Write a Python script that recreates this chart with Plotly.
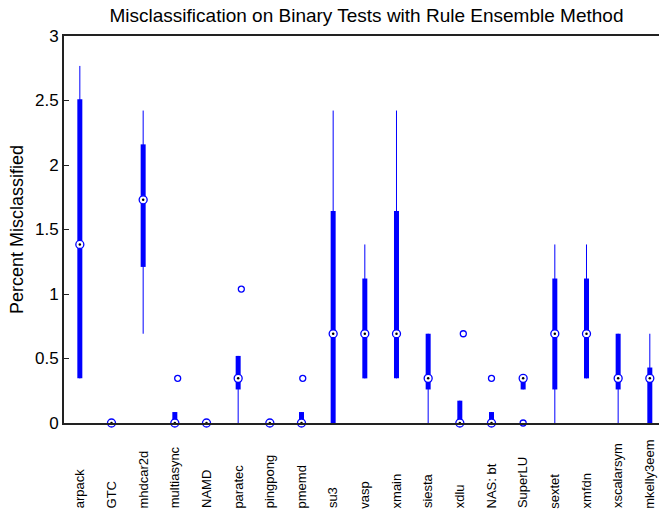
import plotly.graph_objects as go

labels = ["arpack", "GTC", "mhdcar2d", "multiasync", "NAMD", "paratec", "pingpong",
          "pmemd", "su3", "vasp", "xmain", "siesta", "xdlu", "NAS: bt", "SuperLU",
          "sextet", "xmfdn", "xscalarsym", "mkelly3eem"]

whisker_low = [0.346, 0, 0.692, 0, 0, 0, 0, 0, 0, 0.346, 0.346, 0, 0, 0, 0.26, 0, 0.346, 0, 0]
q1 = [0.346, 0, 1.21, 0, 0, 0.26, 0, 0, 0, 0.346, 0.346, 0.26, 0, 0, 0.26, 0.26, 0.346, 0.26, 0]
median = [1.384, 0, 1.73, 0, 0, 0.346, 0, 0, 0.692, 0.692, 0.692, 0.346, 0, 0, 0.346, 0.692, 0.692, 0.346, 0.346]
q3 = [2.51, 0, 2.16, 0.085, 0, 0.52, 0, 0.085, 1.643, 1.12, 1.643, 0.692, 0.173, 0.085, 0.346, 1.12, 1.12, 0.692, 0.43]
whisker_high = [2.768, 0, 2.422, 0.085, 0, 0.52, 0, 0.085, 2.422, 1.384, 2.422, 0.692, 0.173, 0.085, 0.346, 1.384, 1.384, 0.692, 0.692]

# outliers: (category index, value, horizontal jitter)
outlier_cat = [3, 5, 7, 12, 13, 14]
outlier_val = [0.346, 1.038, 0.346, 0.692, 0.346, 0.0]
outlier_jit = [0.09, 0.10, 0.04, 0.11, 0.0, 0.0]

BLUE = "#0000ff"
pos = list(range(1, len(labels) + 1))

wx, wy, bx, by = [], [], [], []
for p, lo, a, b, hi in zip(pos, whisker_low, q1, q3, whisker_high):
    if hi > lo:
        wx += [p, p, None]
        wy += [lo, hi, None]
    if b > a:
        bx += [p, p, None]
        by += [a, b, None]

fig = go.Figure()
fig.add_trace(go.Scatter(x=wx, y=wy, mode="lines", line=dict(color=BLUE, width=1),
                         hoverinfo="skip", showlegend=False, cliponaxis=False))
fig.add_trace(go.Scatter(x=bx, y=by, mode="lines", line=dict(color=BLUE, width=5),
                         hoverinfo="skip", showlegend=False, cliponaxis=False))
fig.add_trace(go.Scatter(x=[pos[c] + j for c, j in zip(outlier_cat, outlier_jit)], y=outlier_val,
                         mode="markers",
                         marker=dict(symbol="circle-open", size=6, color=BLUE, line=dict(width=1.3)),
                         showlegend=False, cliponaxis=False))
fig.add_trace(go.Scatter(x=pos, y=median, mode="markers",
                         marker=dict(symbol="circle", size=8, color="white",
                                     line=dict(color=BLUE, width=1.3)),
                         showlegend=False, cliponaxis=False))
fig.add_trace(go.Scatter(x=pos, y=median, mode="markers",
                         marker=dict(symbol="circle", size=2.5, color="black"),
                         showlegend=False, cliponaxis=False))

for p, lab in zip(pos, labels):
    fig.add_annotation(x=p, xref="x", y=-0.226, yref="paper", text=lab, textangle=-90,
                       showarrow=False, xanchor="center", yanchor="bottom",
                       font=dict(size=13, color="black", family="Liberation Sans, Arial, sans-serif"))

fig.update_layout(
    width=659, height=510,
    margin=dict(l=64, r=0, t=36, b=87),
    paper_bgcolor="white", plot_bgcolor="white",
    font=dict(family="Liberation Sans, Arial, sans-serif", color="black"),
    title=dict(text="Misclassification on Binary Tests with Rule Ensemble Method",
               x=366.5 / 659, xref="container", xanchor="center",
               y=1 - 15 / 510, yref="container", yanchor="middle",
               font=dict(size=19, color="black")),
    xaxis=dict(range=[0.5, 19.29], showgrid=False, zeroline=False, showticklabels=False,
               ticks="", showline=True, linecolor="#222", linewidth=2, mirror=True),
    yaxis=dict(range=[0, 3], showgrid=False, zeroline=False, tickvals=[0, 0.5, 1, 1.5, 2, 2.5, 3],
               ticktext=["0", "0.5", "1", "1.5", "2", "2.5", "3"],
               ticks="inside", ticklen=5, tickcolor="#222", showline=True, linecolor="#222",
               linewidth=2, tickfont=dict(size=17),
               title=dict(text="Percent Misclassified", font=dict(size=18), standoff=7)),
)

fig.write_html("out.html")
